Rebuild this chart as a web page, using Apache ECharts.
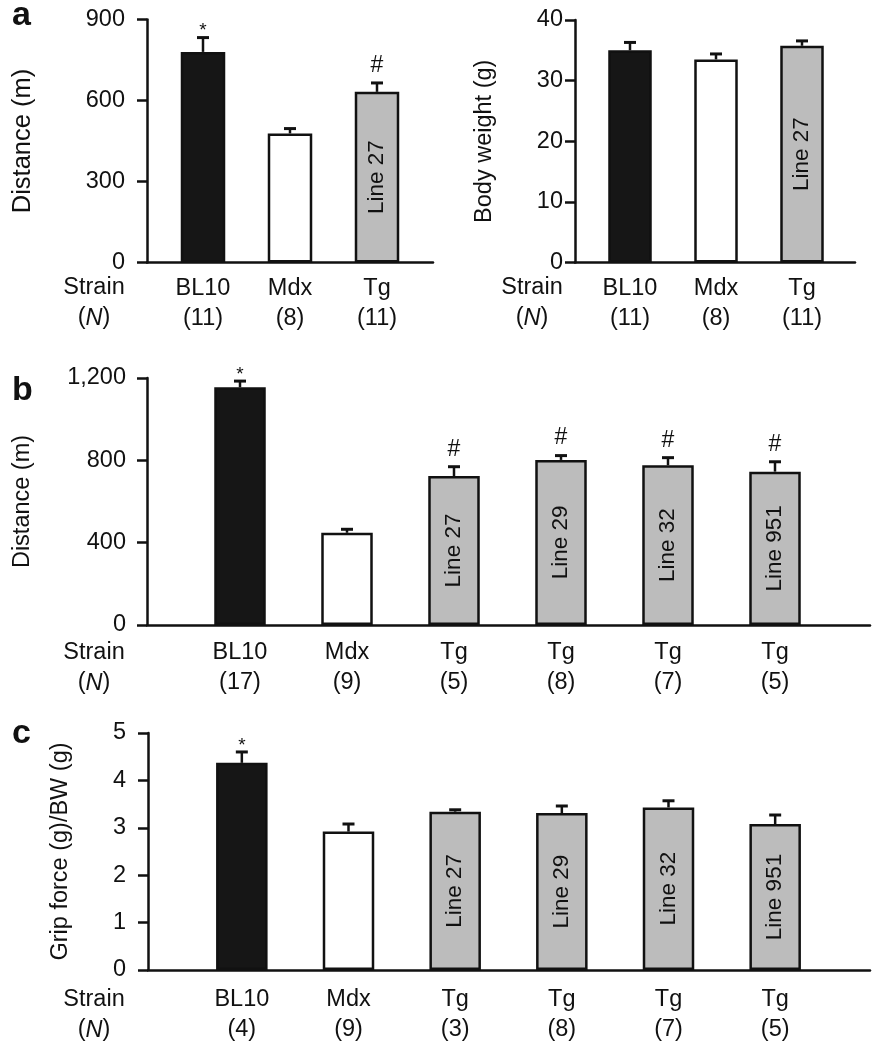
<!DOCTYPE html>
<html>
<head>
<meta charset="utf-8">
<script src="https://cdn.jsdelivr.net/npm/echarts@6/dist/echarts.min.js"></script>
<style>
html,body{margin:0;padding:0;background:#fff;}
#chart{width:883px;height:1050px;}
</style>
</head>
<body>
<div id="chart"></div>
<script>
// ---------- DATA ----------
const aDistCategories = ['BL10', 'Mdx', 'Tg'];
const aDistN = ['11', '8', '11'];
const aDistValues = [780, 478, 632];
const aDistErrors = [53, 18, 33];
const aDistMarks = ['*', '', '#'];
const aDistInner = ['', '', 'Line 27'];
const aDistTicks = { min: 0, max: 900, interval: 300 };

const aBwCategories = ['BL10', 'Mdx', 'Tg'];
const aBwN = ['11', '8', '11'];
const aBwValues = [35.0, 33.5, 35.75];
const aBwErrors = [1.3, 0.9, 0.8];
const aBwMarks = ['', '', ''];
const aBwInner = ['', '', 'Line 27'];
const aBwTicks = { min: 0, max: 40, interval: 10 };

const bCategories = ['BL10', 'Mdx', 'Tg', 'Tg', 'Tg', 'Tg'];
const bN = ['17', '9', '5', '8', '7', '5'];
const bValues = [1155, 448, 724, 802, 776, 745];
const bErrors = [30, 17, 45, 21, 37, 48];
const bMarks = ['*', '', '#', '#', '#', '#'];
const bInner = ['', '', 'Line 27', 'Line 29', 'Line 32', 'Line 951'];
const bTicks = { min: 0, max: 1200, interval: 400 };

const cCategories = ['BL10', 'Mdx', 'Tg', 'Tg', 'Tg', 'Tg'];
const cN = ['4', '9', '3', '8', '7', '5'];
const cValues = [4.37, 2.92, 3.34, 3.31, 3.43, 3.08];
const cErrors = [0.23, 0.16, 0.04, 0.15, 0.14, 0.19];
const cMarks = ['*', '', '', '', '', ''];
const cInner = ['', '', 'Line 27', 'Line 29', 'Line 32', 'Line 951'];
const cTicks = { min: 0, max: 5, interval: 1 };

const strainColors = ['#161616', '#ffffff', '#bcbcbc', '#bcbcbc', '#bcbcbc', '#bcbcbc'];

// ---------- STYLE / LAYOUT ----------
const FONT = "'Liberation Sans', Arial, Helvetica, sans-serif";
const INK = '#111111';
const FS = 23.5;

const panels = [
  { cats: aDistCategories, n: aDistN, vals: aDistValues, errs: aDistErrors, marks: aDistMarks, inner: aDistInner, ticks: aDistTicks,
    name: 'Distance (m)', nameSize: 25.5, axisX: 147, xEnd: 433, top: 19.5, bottom: 262.5, barLeft: 159.5, barRight: 420.5, barWidth: 44.5,
    labelMargin: 22, nameGap: 111, catMargin: 11, fmt: v => String(v) },
  { cats: aBwCategories, n: aBwN, vals: aBwValues, errs: aBwErrors, marks: aBwMarks, inner: aBwInner, ticks: aBwTicks,
    name: 'Body weight (g)', nameSize: FS, axisX: 575, xEnd: 855, top: 20, bottom: 262.5, barLeft: 587, barRight: 845, barWidth: 43.5,
    labelMargin: 12, nameGap: 78, catMargin: 11, fmt: v => String(v) },
  { cats: bCategories, n: bN, vals: bValues, errs: bErrors, marks: bMarks, inner: bInner, ticks: bTicks,
    name: 'Distance (m)', nameSize: FS, axisX: 147, xEnd: 870, top: 378, bottom: 625, barLeft: 186.5, barRight: 828.5, barWidth: 51.5,
    labelMargin: 21, nameGap: 112, catMargin: 13, fmt: v => v.toLocaleString('en-US') },
  { cats: cCategories, n: cN, vals: cValues, errs: cErrors, marks: cMarks, inner: cInner, ticks: cTicks,
    name: 'Grip force (g)/BW (g)', nameSize: FS, axisX: 148, xEnd: 870, top: 733, bottom: 970, barLeft: 188.5, barRight: 828.5, barWidth: 51.5,
    labelMargin: 22, nameGap: 75, catMargin: 15, fmt: v => String(v) }
];

const grid = [], xAxis = [], yAxis = [], series = [];

panels.forEach((p, i) => {
  const gAxis = i * 2, gBar = i * 2 + 1;
  grid.push({ left: p.axisX, top: p.top, width: p.xEnd - p.axisX, height: p.bottom - p.top, outerBoundsMode: 'none', containLabel: false });
  grid.push({ left: p.barLeft, top: p.top, width: p.barRight - p.barLeft, height: p.bottom - p.top, outerBoundsMode: 'none', containLabel: false });

  // axis frame grid
  xAxis.push({ gridIndex: gAxis, type: 'value', min: 0, max: 1,
    axisLine: { show: true, onZero: false, lineStyle: { color: INK, width: 2.5 } },
    axisTick: { show: false }, axisLabel: { show: false }, splitLine: { show: false } });
  yAxis.push({ gridIndex: gAxis, type: 'value', min: p.ticks.min, max: p.ticks.max, interval: p.ticks.interval,
    name: p.name, nameLocation: 'middle', nameGap: p.nameGap,
    nameTextStyle: { fontFamily: FONT, fontSize: p.nameSize, color: INK },
    axisLine: { show: true, lineStyle: { color: INK, width: 2.5 } },
    axisTick: { show: true, inside: false, length: 10, lineStyle: { color: INK, width: 2.5 } },
    axisLabel: { show: true, margin: p.labelMargin, fontFamily: FONT, fontSize: FS, color: INK, formatter: p.fmt },
    splitLine: { show: false } });

  // bar grid
  xAxis.push({ gridIndex: gBar, type: 'category', data: p.cats,
    axisLine: { show: false }, axisTick: { show: false }, splitLine: { show: false },
    axisLabel: { show: true, interval: 0, margin: p.catMargin, fontFamily: FONT, fontSize: FS, lineHeight: 30, color: INK,
      formatter: (v, idx) => v + '\n(' + p.n[idx] + ')' } });
  yAxis.push({ gridIndex: gBar, type: 'value', min: p.ticks.min, max: p.ticks.max, interval: p.ticks.interval, show: false });

  series.push({
    type: 'bar', xAxisIndex: gBar, yAxisIndex: gBar, barWidth: p.barWidth, animation: false,
    data: p.vals.map((v, k) => ({
      value: v,
      itemStyle: { color: strainColors[k], borderColor: INK, borderWidth: 2.5 },
      label: p.inner[k] ? { show: true, formatter: p.inner[k], position: 'inside', rotate: 90,
        fontFamily: FONT, fontSize: 22.5, color: INK } : { show: false }
    }))
  });

  series.push({
    type: 'custom', xAxisIndex: gBar, yAxisIndex: gBar, animation: false, z: 5,
    data: p.vals.map((v, k) => [k, v, p.errs[k]]),
    renderItem: (params, api) => {
      const k = api.value(0), v = api.value(1), e = api.value(2);
      const p0 = api.coord([k, v]);
      const p1 = api.coord([k, v + e]);
      const children = [
        { type: 'line', shape: { x1: p0[0], y1: p0[1], x2: p1[0], y2: p1[1] }, style: { stroke: INK, lineWidth: 2.5 } },
        { type: 'line', shape: { x1: p1[0] - 6, y1: p1[1], x2: p1[0] + 6, y2: p1[1] }, style: { stroke: INK, lineWidth: 3 } }
      ];
      const m = p.marks[params.dataIndex];
      if (m === '*') {
        children.push({ type: 'text', x: p1[0], y: p1[1] + 3, style: { text: '*', fontFamily: FONT, fontSize: 19, fill: INK, align: 'center', verticalAlign: 'bottom' } });
      } else if (m === '#') {
        children.push({ type: 'text', x: p1[0], y: p1[1] - 6, style: { text: '#', fontFamily: FONT, fontSize: 23, fill: INK, align: 'center', verticalAlign: 'bottom' } });
      }
      return { type: 'group', children };
    }
  });
});

// Row headers and panel letters
const rowHeaders = [
  { x: 94, y: 273 }, { x: 532, y: 273 }, { x: 94, y: 638 }, { x: 94, y: 985 }
];
const panelLetters = [
  { t: 'a', x: 12, y: 16 }, { t: 'b', x: 12, y: 391 }, { t: 'c', x: 12, y: 734 }
];
const graphic = [];
rowHeaders.forEach(h => {
  graphic.push({ type: 'text', x: h.x, y: h.y, silent: true,
    style: { text: 'Strain\n({i|N})', fontFamily: FONT, fontSize: FS, lineHeight: 30, fill: INK, align: 'center', verticalAlign: 'top',
      rich: { i: { fontFamily: FONT, fontSize: FS, fontStyle: 'italic', fill: INK, lineHeight: 30 } } } });
});
panelLetters.forEach(l => {
  graphic.push({ type: 'text', x: l.x, y: l.y, silent: true,
    style: { text: l.t, fontFamily: FONT, fontSize: 34, fontWeight: 'bold', fill: INK, align: 'left', verticalAlign: 'middle' } });
});

const chart = echarts.init(document.getElementById('chart'), null, { renderer: 'canvas' });
chart.setOption({
  backgroundColor: '#ffffff',
  animation: false,
  grid, xAxis, yAxis, series, graphic
});
</script>
</body>
</html>
